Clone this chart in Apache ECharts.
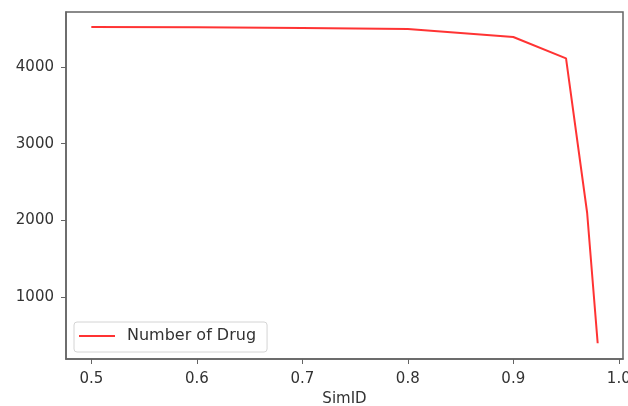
<!DOCTYPE html>
<html>
<head>
<meta charset="utf-8">
<script src="https://cdn.jsdelivr.net/npm/echarts@6/dist/echarts.min.js"></script>
<style>
    html, body { margin: 0; padding: 0; background: #fff; }
    #chart { width: 628px; height: 406px; }
</style>
</head>
<body>
<div id="chart"></div>
<script>
// 数据
const simIds = [0.5, 0.6, 0.7, 0.8, 0.9, 0.95, 0.97, 0.98];
const drugCounts = [4520, 4515, 4505, 4495, 4390, 4110, 2100, 400];
const xTicks = [0.5, 0.6, 0.7, 0.8, 0.9, 1.0];
const yTicks = [1000, 2000, 3000, 4000];

let chart = echarts.init(document.getElementById("chart"));

let points = [];
for (let i = 0; i < simIds.length; i++) {
    points.push([simIds[i], drugCounts[i]]);
}

const frameColor = "#646464";
const labelFont = {
    fontFamily: "DejaVu Sans",
    fontSize: 15,
    color: "#333"
};

let option = {
    animation: false,
    grid: {
        left: 66,
        right: 5,
        top: 12,
        bottom: 47,
        containLabel: false,
        outerBoundsMode: 'none',
        show: true,
        borderColor: frameColor,
        borderWidth: 1.5
    },
    xAxis: {
        type: 'value',
        min: 0.476,
        max: 1.004,
        name: 'SimID',
        nameLocation: 'middle',
        nameGap: 33,
        nameTextStyle: labelFont,
        splitLine: { show: false },
        axisLine: { lineStyle: { color: frameColor, width: 1.5 } },
        axisTick: {
            customValues: xTicks,
            length: 5,
            lineStyle: { color: frameColor }
        },
        axisLabel: Object.assign({
            customValues: xTicks,
            margin: 13,
            formatter: function (v) { return v.toFixed(1); }
        }, labelFont)
    },
    yAxis: {
        type: 'value',
        min: 195,
        max: 4715,
        splitLine: { show: false },
        axisLine: { show: true, lineStyle: { color: frameColor, width: 1.5 } },
        axisTick: {
            show: true,
            customValues: yTicks,
            length: 5,
            lineStyle: { color: frameColor }
        },
        axisLabel: Object.assign({
            customValues: yTicks,
            margin: 12,
            formatter: function (v) { return String(v); }
        }, labelFont)
    },
    legend: {
        left: 74,
        top: 322,
        orient: 'vertical',
        icon: 'rect',
        itemWidth: 36,
        itemHeight: 2,
        itemGap: 0,
        padding: [6, 11, 8, 5],
        borderColor: '#d4d4d4',
        borderWidth: 1,
        borderRadius: 3,
        backgroundColor: '#fff',
        textStyle: Object.assign({}, labelFont, { fontSize: 16, padding: [0, 0, 0, 7] }),
        data: ['Number of Drug']
    },
    series: [{
        name: 'Number of Drug',
        type: 'line',
        data: points,
        symbol: 'none',
        color: 'rgba(255, 0, 0, 0.8)',
        lineStyle: { width: 2 }
    }]
};

chart.setOption(option);
</script>
</body>
</html>
